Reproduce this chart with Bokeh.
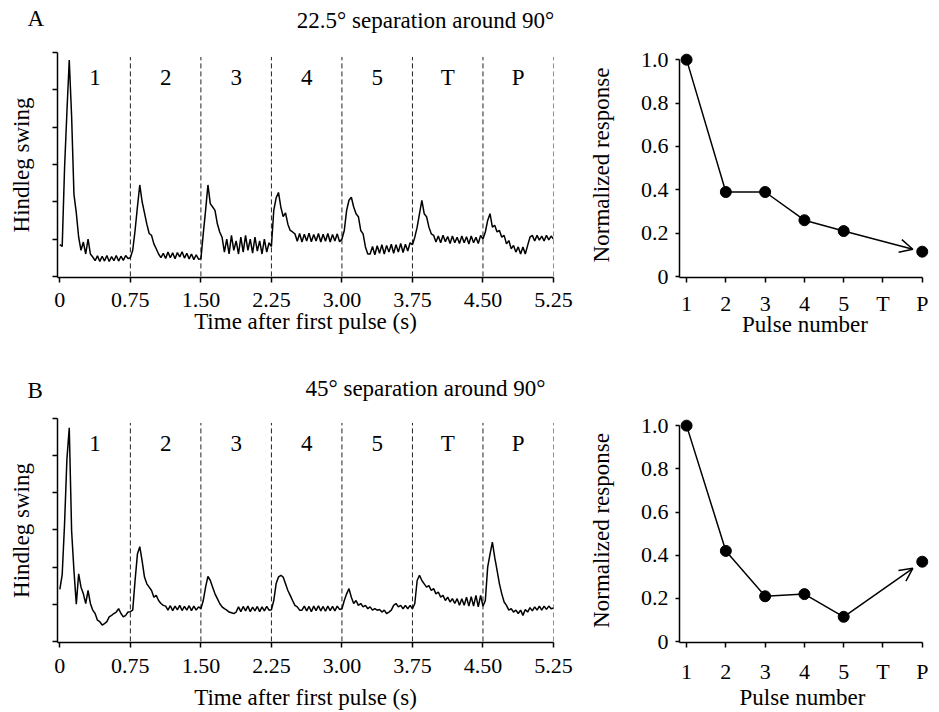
import numpy as np
from bokeh.plotting import figure
from bokeh.layouts import column, row
from bokeh.models import FixedTicker, Range1d, Label, Arrow, OpenHead
from bokeh.embed import file_html
from bokeh.resources import INLINE

FONT = "Liberation Serif"

# ---------------- data ----------------
SAMPLE_STEP = 0.025  # s between trace samples
segment_bounds = [0, 0.75, 1.5, 2.25, 3.0, 3.75, 4.5, 5.25]
time_tick_labels = ["0", "0.75", "1.50", "2.25", "3.00", "3.75", "4.50", "5.25"]
segment_labels = ["1", "2", "3", "4", "5", "T", "P"]

trace_a = [
    0.85, 0.8, 2.9, 4.4, 5.8, 4.3, 2.2, 1.7, 1.05, 0.7, 0.92, 0.6, 1.0, 0.6, 0.52,
    0.42, 0.55, 0.4, 0.54, 0.41, 0.56, 0.4, 0.53, 0.42, 0.56, 0.41, 0.54, 0.43, 0.56, 0.48,
    0.5, 0.7, 1.23, 1.86, 2.45, 2.0, 1.7, 1.4, 1.15, 1.1, 0.87, 0.74, 0.6, 0.5, 0.62,
    0.48, 0.65, 0.5, 0.63, 0.47, 0.64, 0.52, 0.66, 0.49, 0.62, 0.47, 0.6, 0.45, 0.58, 0.46,
    0.47, 1.14, 1.77, 2.45, 1.95, 1.86, 1.77, 1.41, 1.19, 1.05, 0.65, 1.0, 0.6, 1.1, 0.7,
    0.95, 0.6, 1.05, 0.65, 1.1, 0.7, 1.0, 0.62, 1.05, 0.68, 0.95, 0.6, 1.0, 0.65, 0.9,
    0.8, 1.77, 2.1, 2.25, 1.86, 1.6, 1.7, 1.4, 1.23, 1.19, 1.14, 0.94, 1.15, 0.92, 1.13,
    0.95, 1.16, 0.93, 1.12, 0.95, 1.15, 0.92, 1.13, 0.94, 1.15, 0.92, 1.12, 0.95, 1.14, 0.93,
    1.0, 1.23, 1.77, 2.04, 2.12, 1.86, 1.68, 1.6, 1.23, 1.14, 0.79, 0.6, 0.6, 0.8, 0.58,
    0.82, 0.62, 0.85, 0.6, 0.83, 0.65, 0.86, 0.62, 0.85, 0.65, 0.88, 0.64, 0.86, 0.68, 0.9,
    0.85, 1.05, 1.32, 1.68, 2.04, 1.68, 1.6, 1.32, 1.14, 1.1, 0.92, 1.08, 0.9, 1.1, 0.93,
    1.07, 0.88, 1.08, 0.9, 1.05, 0.88, 1.08, 0.9, 1.06, 0.87, 1.08, 0.9, 1.05, 0.88, 1.1,
    1.0, 1.19, 1.5, 1.68, 1.32, 1.37, 1.19, 1.23, 1.05, 1.1, 0.87, 0.96, 0.74, 0.83, 0.65,
    0.79, 0.6, 0.79, 0.6, 0.83, 1.05, 1.1, 0.95, 1.1, 0.97, 1.08, 0.95, 1.1, 0.98, 1.08,
    1.0,
]

trace_b = [
    1.4, 1.8, 3.16, 4.9, 5.75, 2.98, 1.9, 1.0, 1.82, 1.46, 1.28, 1.02, 1.37, 1.02, 0.84,
    0.75, 0.57, 0.53, 0.44, 0.48, 0.53, 0.66, 0.7, 0.75, 0.79, 0.88, 0.75, 0.66, 0.7, 0.79,
    0.8, 0.84, 1.64, 2.35, 2.55, 2.17, 1.73, 1.55, 1.46, 1.37, 1.19, 1.24, 1.1, 1.02, 0.97,
    0.95, 0.84, 0.96, 0.83, 0.95, 0.85, 0.97, 0.83, 0.94, 0.84, 0.96, 0.83, 0.95, 0.84, 0.93,
    0.88, 1.1, 1.46, 1.75, 1.64, 1.46, 1.28, 1.15, 1.02, 0.93, 0.88, 0.84, 0.79, 0.77, 0.75,
    0.79, 0.93, 0.8, 0.94, 0.82, 0.95, 0.8, 0.92, 0.82, 0.94, 0.8, 0.93, 0.82, 0.94, 0.84,
    0.85, 1.1, 1.55, 1.73, 1.78, 1.73, 1.55, 1.37, 1.24, 1.1, 0.97, 0.93, 0.84, 0.84, 0.95,
    0.82, 0.94, 0.8, 0.95, 0.83, 0.96, 0.82, 0.94, 0.81, 0.95, 0.83, 0.94, 0.82, 0.95, 0.86,
    0.88, 1.1, 1.28, 1.42, 1.19, 1.02, 1.1, 0.97, 1.02, 0.93, 0.97, 0.88, 0.93, 0.84, 0.88,
    0.84, 0.86, 0.79, 0.84, 0.75, 0.79, 0.84, 0.97, 1.02, 0.93, 0.97, 0.88, 0.97, 0.88, 0.97,
    0.88, 1.02, 1.64, 1.78, 1.64, 1.55, 1.46, 1.5, 1.37, 1.42, 1.28, 1.33, 1.19, 1.24, 1.1,
    1.19, 1.06, 1.15, 1.02, 1.15, 0.97, 1.15, 0.97, 1.19, 0.95, 1.2, 0.95, 1.24, 0.93, 1.24,
    0.95, 1.1, 2.0, 2.35, 2.67, 2.26, 1.91, 1.55, 1.28, 1.06, 0.97, 0.84, 0.88, 0.79, 0.84,
    0.75, 0.84, 0.7, 0.86, 0.79, 0.91, 0.82, 0.93, 0.84, 0.95, 0.84, 0.95, 0.86, 0.95, 0.88,
    0.9,
]

pulse_positions = [1, 2, 3, 4, 5, 6, 7]
pulse_tick_labels = ["1", "2", "3", "4", "5", "T", "P"]
pulses_measured = [1, 2, 3, 4, 5]
response_a = [1.0, 0.39, 0.39, 0.26, 0.21]
response_a_probe = 0.115
response_b = [1.0, 0.42, 0.21, 0.22, 0.115]
response_b_probe = 0.37
probe_position = 7

resp_ticks = [0, 0.2, 0.4, 0.6, 0.8, 1.0]
resp_tick_labels = ["0", "0.2", "0.4", "0.6", "0.8", "1.0"]

titles = ["22.5\u00b0 separation around 90\u00b0", "45\u00b0 separation around 90\u00b0"]
letters = ["A", "B"]
time_axis_title = "Time after first pulse (s)"
pulse_axis_title = "Pulse number"

# ---------------- layout constants (pixels) ----------------
LEFT_W, RIGHT_W = 575, 356
TOTAL_W = LEFT_W + RIGHT_W
FRAME_H = 225
HEAD_H = 40          # 0..40
ROW1_H = 310         # 40..350
MID_H = 60           # 350..410
ROW2_H = 276         # 410..686
FOOT_H = 26          # 686..712
TICK_FS, LABEL_FS = "22px", "23px"


def base_style(p):
    p.outline_line_color = None
    p.xgrid.visible = False
    p.ygrid.visible = False
    p.background_fill_color = "white"
    p.border_fill_color = "white"
    for ax in p.axis:
        ax.axis_line_width = 1.5
        ax.axis_line_color = "black"
        ax.major_tick_line_width = 1.5
        ax.major_tick_line_color = "black"
        ax.minor_tick_line_color = None
        ax.major_tick_in = 0
        ax.major_tick_out = 5
        ax.major_label_text_font = FONT
        ax.major_label_text_font_size = TICK_FS
        ax.major_label_text_color = "black"
        ax.axis_label_text_font = FONT
        ax.axis_label_text_font_size = LABEL_FS
        ax.axis_label_text_font_style = "normal"
        ax.axis_label_text_color = "black"


def text_strip(height, items):
    """A blank strip whose ranges are in pixels; items = (x, y_from_bottom, text, align)."""
    p = figure(width=TOTAL_W, height=height, x_range=Range1d(0, TOTAL_W),
               y_range=Range1d(0, height), output_backend="svg", toolbar_location=None,
               x_axis_location=None, y_axis_location=None,
               min_border_left=0, min_border_right=0, min_border_top=0, min_border_bottom=0)
    p.outline_line_color = None
    p.xgrid.visible = False
    p.ygrid.visible = False
    for x, y, txt, align in items:
        p.add_layout(Label(x=x, y=y, text=txt, text_align=align,
                           text_baseline="alphabetic", text_font=FONT,
                           text_font_size=LABEL_FS, text_color="black"))
    return p


def trace_panel(trace, height, border_top, tick_standoff, x_title=None, title_standoff=0):
    t = np.arange(len(trace)) * SAMPLE_STEP
    p = figure(width=LEFT_W, height=height,
               x_range=Range1d(-0.025, 5.25), y_range=Range1d(-0.03, 6.0),
               output_backend="svg", toolbar_location=None,
               min_border_left=57, min_border_right=22,
               min_border_top=border_top, min_border_bottom=height - border_top - FRAME_H)
    base_style(p)
    bounds = segment_bounds[1:]
    p.segment(x0=bounds, y0=[0] * len(bounds), x1=bounds, y1=[5.88] * len(bounds),
              line_color="#222222", line_width=1, line_dash="5 3")
    p.line(t, trace, line_color="black", line_width=1.5)
    mids = [(a + b) / 2 for a, b in zip(segment_bounds[:-1], segment_bounds[1:])]
    for m, s in zip(mids, segment_labels):
        p.add_layout(Label(x=m, y=5.34, text=s, text_align="center", text_baseline="middle",
                           text_font=FONT, text_font_size=LABEL_FS, text_color="black"))
    p.xaxis.ticker = FixedTicker(ticks=segment_bounds)
    p.xaxis.major_label_overrides = {float(k): v for k, v in zip(segment_bounds, time_tick_labels)}
    p.xaxis.major_label_standoff = tick_standoff
    if x_title:
        p.xaxis.axis_label = x_title
        p.xaxis.axis_label_standoff = title_standoff
    p.yaxis.ticker = FixedTicker(ticks=[0, 1, 2, 3, 4, 5, 6])
    p.yaxis.major_label_overrides = {i: "" for i in range(7)}
    p.yaxis.major_label_standoff = 0
    p.yaxis.axis_label = "Hindleg swing"
    p.yaxis.axis_label_standoff = 19
    return p


def response_panel(resp, probe, height, border_top, tick_standoff, x_title=None, title_standoff=0):
    p = figure(width=RIGHT_W, height=height,
               x_range=Range1d(0.82, 7.21), y_range=Range1d(-0.004, 1.033),
               output_backend="svg", toolbar_location=None,
               min_border_left=104, min_border_right=1,
               min_border_top=border_top, min_border_bottom=height - border_top - FRAME_H)
    base_style(p)
    p.line(pulses_measured, resp, line_color="black", line_width=1.5)
    xs = pulses_measured + [probe_position]
    ys = resp + [probe]
    p.scatter(xs, ys, size=11, color="black")
    frac = 0.88
    x0, y0 = pulses_measured[-1], resp[-1]
    p.add_layout(Arrow(end=OpenHead(size=13, line_width=1.5, line_color="black"),
                       x_start=x0, y_start=y0,
                       x_end=x0 + frac * (probe_position - x0),
                       y_end=y0 + frac * (probe - y0),
                       line_width=1.5, line_color="black"))
    p.xaxis.ticker = FixedTicker(ticks=pulse_positions)
    p.xaxis.major_label_overrides = dict(zip(pulse_positions, pulse_tick_labels))
    p.xaxis.bounds = (0.82, 7)
    p.xaxis.major_label_standoff = tick_standoff
    if x_title:
        p.xaxis.axis_label = x_title
        p.xaxis.axis_label_standoff = title_standoff
    p.yaxis.ticker = FixedTicker(ticks=resp_ticks)
    p.yaxis.major_label_overrides = {float(k): v for k, v in zip(resp_ticks, resp_tick_labels)}
    p.yaxis.bounds = (-0.004, 1.0)
    p.yaxis.major_tick_out = 4
    p.yaxis.major_label_standoff = 7
    p.yaxis.axis_label = "Normalized response"
    p.yaxis.axis_label_standoff = 24
    return p


head_a = text_strip(HEAD_H, [(27, 22, letters[0], "left"), (425, 20, titles[0], "center")])
a_left = trace_panel(trace_a, ROW1_H, 12, 10, time_axis_title, -1)
a_right = response_panel(response_a, response_a_probe, ROW1_H, 12, 8, pulse_axis_title, -7)
mid = text_strip(MID_H, [(27, 20, letters[1], "left"), (425, 22, titles[1], "center")])
b_left = trace_panel(trace_b, ROW2_H, 8, 11)
b_right = response_panel(response_b, response_b_probe, ROW2_H, 8, 11)
foot = text_strip(FOOT_H, [(305, 15, time_axis_title, "center"),
                           (802, 15, pulse_axis_title, "center")])

layout = column(head_a, row(a_left, a_right), mid, row(b_left, b_right), foot)

open("out.html", "w").write(file_html(layout, INLINE))
